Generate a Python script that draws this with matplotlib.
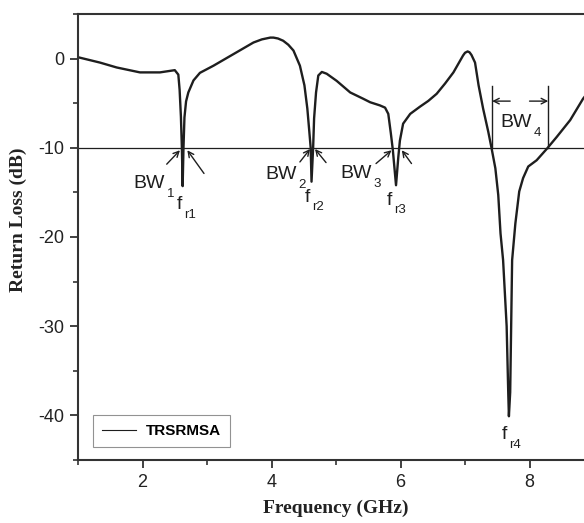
import numpy as np
import matplotlib
matplotlib.use("Agg")
import matplotlib.pyplot as plt
from matplotlib.ticker import MultipleLocator
from matplotlib.lines import Line2D

plt.rcParams["axes.unicode_minus"] = False

freq = [1.00, 1.34, 1.60, 1.96, 2.27, 2.50, 2.555, 2.575, 2.595, 2.61, 2.622,
        2.635, 2.65, 2.675, 2.71, 2.79, 2.89, 3.10, 3.41, 3.72, 3.85, 3.98, 4.03,
        4.10, 4.18, 4.26, 4.34, 4.44, 4.51, 4.555, 4.586, 4.607, 4.62, 4.645, 4.66, 4.69,
        4.725, 4.78, 4.855, 5.01, 5.22, 5.32, 5.42, 5.53, 5.68, 5.76, 5.81, 5.85,
        5.88, 5.93, 5.966, 5.99, 6.04, 6.15, 6.30, 6.43, 6.56, 6.69, 6.82, 6.97, 7.00, 7.04,
        7.07, 7.10, 7.155, 7.21, 7.28, 7.36, 7.41, 7.47, 7.515, 7.55, 7.59, 7.645,
        7.67, 7.68, 7.70, 7.715, 7.73, 7.78, 7.84, 7.90, 7.98, 8.11, 8.27,
        8.42, 8.63, 8.83, 8.95]
rl = [0.15, -0.45, -1.0, -1.55, -1.55, -1.3, -1.8, -3.5, -6.5, -10.0, -14.3,
      -10.0, -6.6, -4.8, -3.8, -2.45, -1.6, -0.8, 0.5, 1.8, 2.15, 2.35, 2.35,
      2.25, 2.0, 1.55, 0.9, -0.8, -3.0, -5.6, -8.2, -10.0, -13.8, -10.0, -6.7, -3.8,
      -1.9, -1.5, -1.7, -2.5, -3.8, -4.15, -4.5, -4.9, -5.25, -5.5, -6.2, -8.4,
      -10.2, -14.2, -11.0, -9.2, -7.3, -6.2, -5.4, -4.75, -3.95, -2.8, -1.55, 0.35, 0.65, 0.8,
      0.7, 0.4, -0.45, -3.0, -5.6, -8.2, -10.0, -12.3, -15.3, -19.6, -22.6, -30.0,
      -37.5, -40.1, -37.4, -30.0, -22.6, -18.5, -14.9, -13.4, -12.1, -11.4, -10.1,
      -8.8, -6.9, -4.5, -3.4]

x_ticks = [2, 4, 6, 8]
y_ticks = [-40, -30, -20, -10, 0]
series_name = "TRSRMSA"
ref_level = -10

ink = "#1e1e1e"
sans = "Liberation Sans"
serif = "Liberation Serif"

fig = plt.figure(figsize=(5.84, 5.23), dpi=100)
ax = fig.add_axes([0.1336, 0.1205, 0.8836, 0.8528])

ax.plot(freq, rl, color=ink, lw=1.7, solid_joinstyle="round")
ax.axhline(ref_level, color=ink, lw=0.9)

ax.set_xlim(1, 9)
ax.set_ylim(-45, 5)
ax.set_xticks(x_ticks)
ax.set_yticks(y_ticks)
ax.xaxis.set_minor_locator(MultipleLocator(1))
ax.yaxis.set_minor_locator(MultipleLocator(5))
ax.tick_params(which="major", direction="out", length=6, width=1.3, color="#333333",
               labelsize=13, pad=4, labelcolor="#222222", top=False, right=False)
ax.tick_params(which="minor", direction="out", length=3.5, width=1.2, color="#333333",
               top=False, right=False)
for lab in ax.get_xticklabels() + ax.get_yticklabels():
    lab.set_fontfamily(sans)
for side in ["left", "bottom", "top"]:
    ax.spines[side].set_linewidth(1.5)
    ax.spines[side].set_color("#333333")
ax.spines["right"].set_visible(False)

ax.set_xlabel("Frequency (GHz)", fontfamily=serif, fontweight="bold", fontsize=14, color="#222222")
ax.set_ylabel("Return Loss (dB)", fontfamily=serif, fontweight="bold", fontsize=14, color="#222222")
ax.xaxis.set_label_coords(0.5, -0.09)
ax.yaxis.set_label_coords(-0.099, 0.538)


def sub_label(x, y, main, sub, dx, dy=-6.5):
    ax.text(x, y, main, fontfamily=sans, fontsize=14, color=ink, ha="left", va="baseline")
    ax.annotate(sub, (x, y), xytext=(dx, dy), textcoords="offset points",
                fontfamily=sans, fontsize=9.5, color=ink, ha="left", va="baseline")


def arrow(start, end):
    ax.annotate("", xy=end, xytext=start,
                arrowprops=dict(arrowstyle="->,head_length=0.4,head_width=0.2",
                                lw=1.0, color=ink, shrinkA=0, shrinkB=0))


# bandwidth labels and arrows
sub_label(1.857, -14.56, "BW", "1", 24)
arrow((2.375, -11.84), (2.58, -10.28))
arrow((2.953, -12.88), (2.695, -10.28))
sub_label(2.53, -16.9, "f", "r1", 5, -6)

sub_label(3.90, -13.5, "BW", "2", 24)
arrow((4.44, -11.59), (4.597, -10.14))
arrow((4.845, -11.66), (4.674, -10.14))
sub_label(4.52, -16.05, "f", "r2", 5, -6)

sub_label(5.06, -13.44, "BW", "3", 24)
arrow((5.62, -11.77), (5.86, -10.28))
arrow((6.17, -11.77), (6.02, -10.28))
sub_label(5.79, -16.4, "f", "r3", 5, -6)

ax.plot([7.42, 7.42], [-3.1, ref_level], color=ink, lw=1.0)
ax.plot([8.29, 8.29], [-3.1, ref_level], color=ink, lw=1.0)
arrow((7.70, -4.77), (7.42, -4.77))
arrow((8.00, -4.77), (8.29, -4.77))
sub_label(7.55, -7.68, "BW", "4", 24)
sub_label(7.57, -42.7, "f", "r4", 5, -6)

handle = Line2D([], [], color=ink, lw=0.8)
leg = ax.legend([handle], [series_name], loc="lower left", bbox_to_anchor=(0.0285, 0.0285),
                borderaxespad=0, fancybox=False, handlelength=2.2, handletextpad=0.65,
                borderpad=0.6, prop={"family": sans, "weight": "bold", "size": 11})
leg.get_frame().set_edgecolor("#777777")
leg.get_frame().set_linewidth(0.8)

fig.savefig("out.png", dpi=100)
